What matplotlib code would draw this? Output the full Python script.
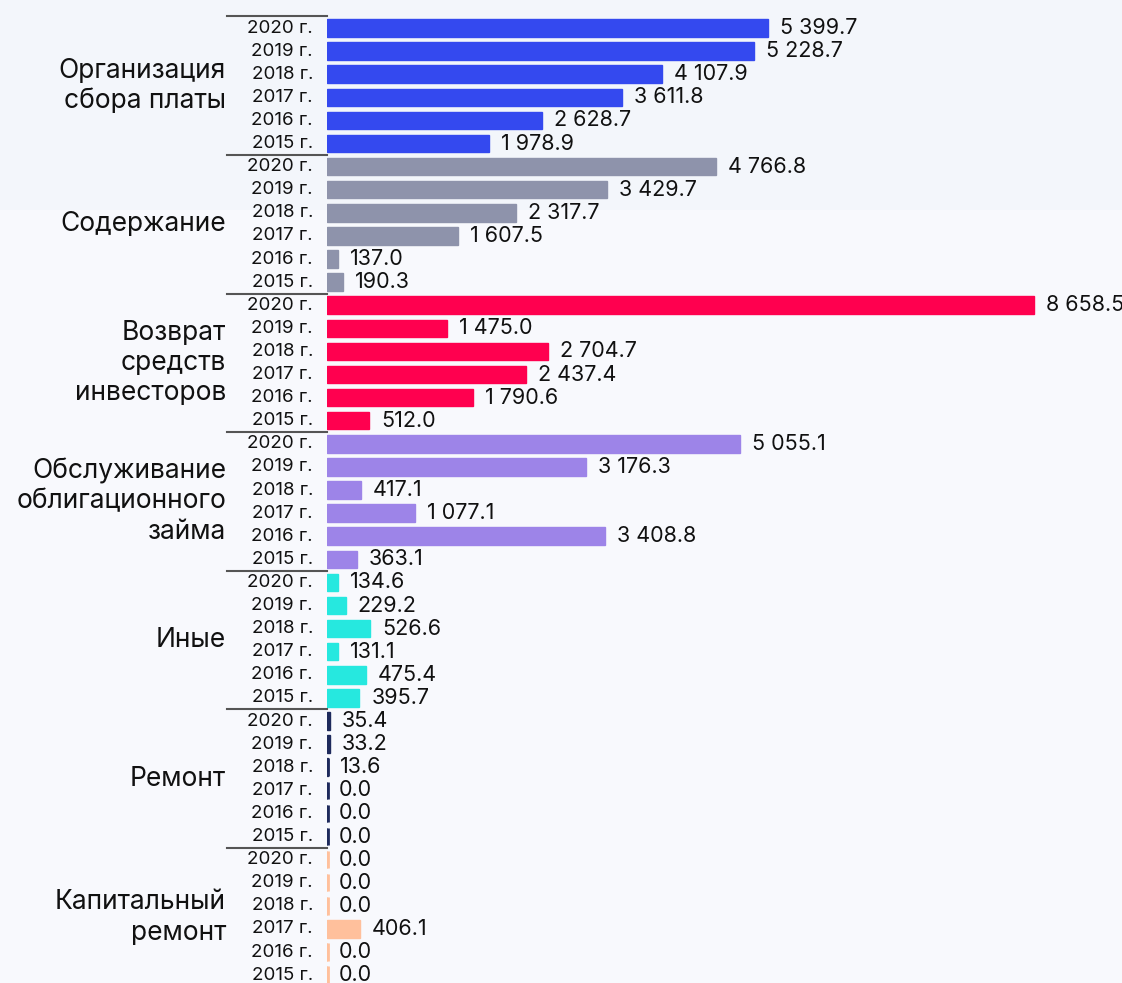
import matplotlib
matplotlib.use("Agg")
from matplotlib import pyplot as plt
from matplotlib.patches import Rectangle

plt.rcParams['font.family'] = ['Inter', 'DejaVu Sans']

categories = ["Организация\nсбора платы", "Содержание", "Возврат\nсредств\nинвесторов",
              "Обслуживание\nоблигационного\nзайма", "Иные", "Ремонт", "Капитальный\nремонт"]
years = ["2020 г.", "2019 г.", "2018 г.", "2017 г.", "2016 г.", "2015 г."]

# values per category, in order 2020 -> 2015
org_sbora = [5399.7, 5228.7, 4107.9, 3611.8, 2628.7, 1978.9]
soderzhanie = [4766.8, 3429.7, 2317.7, 1607.5, 137.0, 190.3]
vozvrat = [8658.5, 1475.0, 2704.7, 2437.4, 1790.6, 512.0]
obsluzhivanie = [5055.1, 3176.3, 417.1, 1077.1, 3408.8, 363.1]
inye = [134.6, 229.2, 526.6, 131.1, 475.4, 395.7]
remont = [35.4, 33.2, 13.6, 0.0, 0.0, 0.0]
kap_remont = [0.0, 0.0, 0.0, 406.1, 0.0, 0.0]

series = [org_sbora, soderzhanie, vozvrat, obsluzhivanie, inye, remont, kap_remont]
colors = ["#3449ef", "#8e93ab", "#ff004f", "#9d84e8", "#26e8df", "#1e2a5c", "#ffc09c"]

W, H = 1122, 983
fig = plt.figure(figsize=(W / 100, H / 100), dpi=100)
fig.patch.set_facecolor("#f8f9fd")
# slightly tinted band at the top
fig.patches.append(Rectangle((0, 1 - 210 / H), 1, 210 / H, transform=fig.transFigure,
                             facecolor="#f3f6fb", edgecolor="none", zorder=-10))

x0 = 327          # pixel of the zero line
px_per_unit = 0.08165
row0, row_step = 28, 23.1

ax = fig.add_axes([x0 / W, 0, (W - x0) / W, 1])
ax.set_facecolor("none")
ax.set_xlim(0, (W - x0) / px_per_unit)
ax.set_ylim((H - row0) / row_step, -row0 / row_step)
ax.axis("off")

def px(d):  # pixel distance -> data units along x
    return d / px_per_unit

n = len(years)
bh = 0.76
for g, (cat, vals, col) in enumerate(zip(categories, series, colors)):
    pos = [g * n + i for i in range(n)]
    ax.barh(pos, vals, height=bh, color=col, edgecolor=col, linewidth=1.0, zorder=2)
    # thin stub so zero bars still show at the baseline
    ax.vlines([px(1)] * n, [p - bh / 2 for p in pos], [p + bh / 2 for p in pos],
              colors=col, lw=2, zorder=2)
    for p, v, yr in zip(pos, vals, years):
        ax.text(v + px(12), p, f"{v:,.1f}".replace(",", " "), va="center", ha="left",
                fontsize=15.5, color="#111111", clip_on=False)
        ax.text(-px(14), p, yr, va="center", ha="right", fontsize=13.5, color="#111111",
                clip_on=False)
    top = g * n - 0.5
    ax.plot([-px(100), 0], [top, top], color="#555555", lw=1.5, clip_on=False, zorder=3)
    ax.text(-px(101), g * n + (n - 1) / 2, cat, va="center", ha="right", fontsize=19,
            linespacing=1.22, color="#111111", clip_on=False)

fig.savefig("out.png", dpi=100, facecolor=fig.get_facecolor())
